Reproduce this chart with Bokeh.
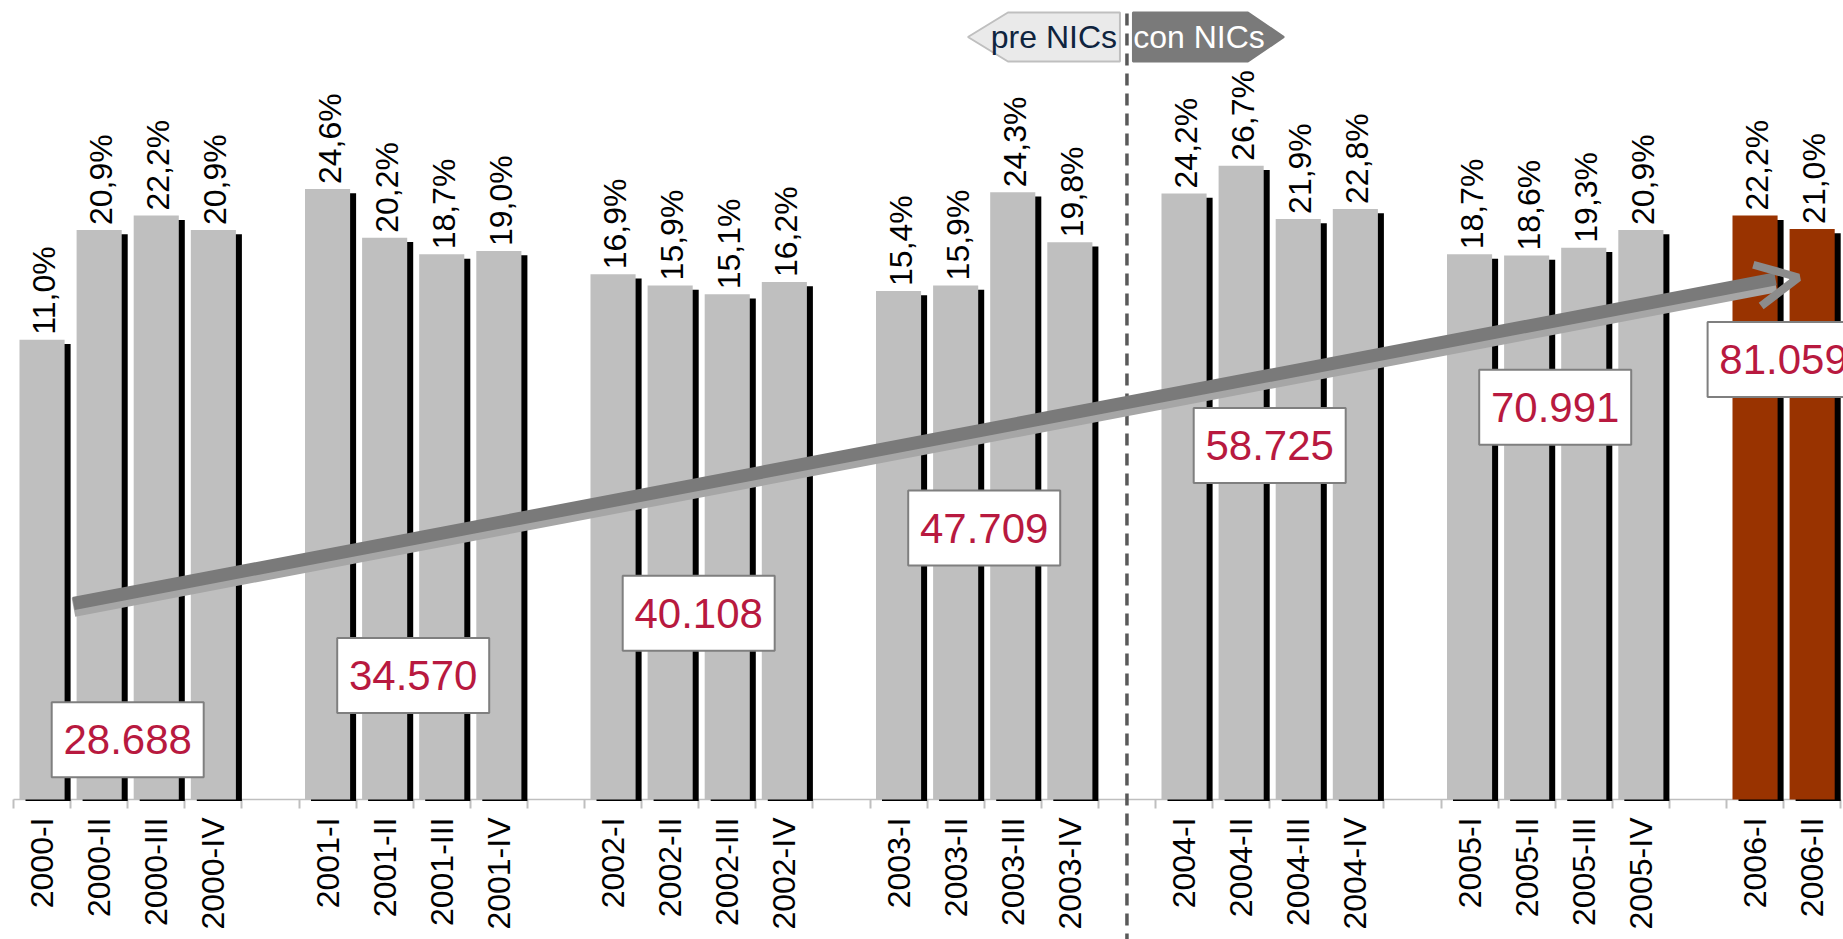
import math

from bokeh.core.properties import value
from bokeh.embed import file_html
from bokeh.models import Arrow, FixedTicker, LinearAxis, OpenHead, Range1d
from bokeh.plotting import figure
from bokeh.resources import INLINE

# ---------------------------------------------------------------- data
years = ["2000", "2001", "2002", "2003", "2004", "2005", "2006"]
quarter_names = ["I", "II", "III", "IV"]

growth_2000 = [11.0, 20.9, 22.2, 20.9]
growth_2001 = [24.6, 20.2, 18.7, 19.0]
growth_2002 = [16.9, 15.9, 15.1, 16.2]
growth_2003 = [15.4, 15.9, 24.3, 19.8]
growth_2004 = [24.2, 26.7, 21.9, 22.8]
growth_2005 = [18.7, 18.6, 19.3, 20.9]
growth_2006 = [22.2, 21.0]

annual_totals = [28688, 34570, 40108, 47709, 58725, 70991, 81059]

# vertical level (value-axis units) of each yearly total box
annual_box_levels = [-25.1, -19.3, -13.7, -6.0, 1.45, 4.9, 9.2]

# ---------------------------------------------------------------- geometry
W, H = 1843, 939
SLOT_PX = 57.1          # one quarter slot, pixels
PCT_PX = 11.08          # one percentage point, pixels
LEFT_PX = 13            # first slot boundary
BASE_PX = 799           # value-axis baseline, pixels from top
Y_BASE = -30.5          # value at the baseline

X_START = -LEFT_PX / SLOT_PX
X_END = (W - LEFT_PX) / SLOT_PX
Y_TOP = Y_BASE + BASE_PX / PCT_PX
Y_BOTTOM = Y_BASE - (H - BASE_PX) / PCT_PX


def dx(px):
    return px / SLOT_PX


def dy(px):
    return px / PCT_PX


series = [growth_2000, growth_2001, growth_2002, growth_2003,
          growth_2004, growth_2005, growth_2006]

xs, vals, labels, colors, tick_names = [], [], [], [], {}
for k, (year, vals_y) in enumerate(zip(years, series)):
    for j, v in enumerate(vals_y):
        c = k * 5 + j + 0.5
        xs.append(c)
        vals.append(v)
        labels.append(f"{v:.1f}%".replace(".", ","))
        colors.append("#993300" if year == "2006" else "#BFBFBF")
        tick_names[c] = f"{year}-{quarter_names[j]}"

n_slots = 5 * (len(years) - 1) + len(growth_2006)
year_centers = [k * 5 + min(4, len(s)) / 2 for k, s in enumerate(series)]
divider_x = 3 * 5 + 4.5   # empty slot between 2003 and 2004

FONT = value("Liberation Sans")

p = figure(width=W, height=H,
           x_range=Range1d(X_START, X_END), y_range=Range1d(Y_BOTTOM, Y_TOP),
           x_axis_type=None, y_axis_type=None,
           output_backend="svg", toolbar_location=None, min_border=0)
p.outline_line_color = None
p.background_fill_color = "white"
p.border_fill_color = "white"

# ---------------------------------------------------------------- axis
xaxis = LinearAxis(
    ticker=FixedTicker(ticks=xs, minor_ticks=list(range(n_slots + 1))),
    fixed_location=Y_BASE,
)
xaxis.bounds = (0, n_slots)
xaxis.level = "underlay"
xaxis.axis_line_color = "#BFBFBF"
xaxis.axis_line_width = 1.5
xaxis.major_tick_in = 0
xaxis.major_tick_out = 0
xaxis.minor_tick_in = 0
xaxis.minor_tick_out = 9
xaxis.minor_tick_line_color = "#BFBFBF"
xaxis.minor_tick_line_width = 2
xaxis.major_label_orientation = math.pi / 2
xaxis.major_label_overrides = tick_names
xaxis.major_label_text_font = "Liberation Sans"
xaxis.major_label_text_font_size = "32px"
xaxis.major_label_text_color = "black"
xaxis.major_label_standoff = 9
p.add_layout(xaxis, "below")

# ---------------------------------------------------------------- bars
bar_w = 0.79
p.vbar(x=[x + dx(6) for x in xs], width=bar_w, bottom=Y_BASE - dy(1.5),
       top=[v - dy(4.3) for v in vals], fill_color="black", line_color=None)
p.vbar(x=xs, width=bar_w, bottom=Y_BASE, top=vals,
       fill_color=colors, line_color=None)

p.text(x=xs, y=vals, text=labels, angle=math.pi / 2,
       text_align="left", text_baseline="middle", x_offset=2, y_offset=-5,
       text_font=FONT, text_font_size="32px", text_color="black")

# ---------------------------------------------------------------- NIC divider
p.segment(x0=[divider_x], y0=[Y_TOP - dy(13)], x1=[divider_x], y1=[Y_BOTTOM],
          line_color="#595959", line_width=3.5, line_dash="12 8")

tag_top, tag_bot, tag_mid = Y_TOP - dy(12), Y_TOP - dy(61), Y_TOP - dy(36.5)
pre_r, pre_l, pre_tip = divider_x - dx(7), divider_x - dx(119), divider_x - dx(159)
con_l, con_r, con_tip = divider_x + dx(6), divider_x + dx(121), divider_x + dx(157)
p.patches(
    xs=[[pre_tip, pre_l, pre_r, pre_r, pre_l],
        [con_l, con_r, con_tip, con_r, con_l]],
    ys=[[tag_mid, tag_top, tag_top, tag_bot, tag_bot],
        [tag_top, tag_top, tag_mid, tag_bot, tag_bot]],
    fill_color=["#EAEAEA", "#7A7A7A"], line_color=["#BFBFBF", "#7A7A7A"],
    line_width=2)
p.text(x=[divider_x - dx(73), divider_x + dx(72)], y=[tag_mid, tag_mid],
       text=["pre NICs", "con NICs"], text_align="center", text_baseline="middle",
       text_font=FONT, text_font_size="32px", text_color=["#0F243E", "white"])

# ---------------------------------------------------------------- trend arrow
ax0, ay0 = dx(73 - LEFT_PX), Y_BASE + dy(BASE_PX - 606)
ax1, ay1 = dx(1798 - LEFT_PX), Y_BASE + dy(BASE_PX - 277)
shaft_end = dx(1775 - LEFT_PX)
shaft_end_y = ay0 + (ay1 - ay0) * (shaft_end - ax0) / (ax1 - ax0)
p.segment(x0=[ax0], y0=[ay0 - dy(1)], x1=[shaft_end], y1=[shaft_end_y - dy(1)],
          line_color="#A6A6A6", line_width=19)
p.segment(x0=[ax0], y0=[ay0 + dy(3)], x1=[shaft_end], y1=[shaft_end_y + dy(3)],
          line_color="#7A7A7A", line_width=13)
p.add_layout(Arrow(end=OpenHead(size=42, line_width=8, line_color="#8C8C8C"),
                   x_start=ax0, y_start=ay0, x_end=ax1, y_end=ay1,
                   line_alpha=0))

# ---------------------------------------------------------------- yearly totals
total_text = [f"{t:,}".replace(",", ".") for t in annual_totals]
p.rect(x=year_centers, y=annual_box_levels, width=152, height=75,
       width_units="screen", height_units="screen",
       fill_color="white", line_color="#7F7F7F", line_width=2)
p.text(x=year_centers, y=annual_box_levels, text=total_text,
       text_align="center", text_baseline="middle",
       text_font=FONT, text_font_size="42px", text_color="#B8193F")

open("out.html", "w").write(file_html(p, INLINE))
